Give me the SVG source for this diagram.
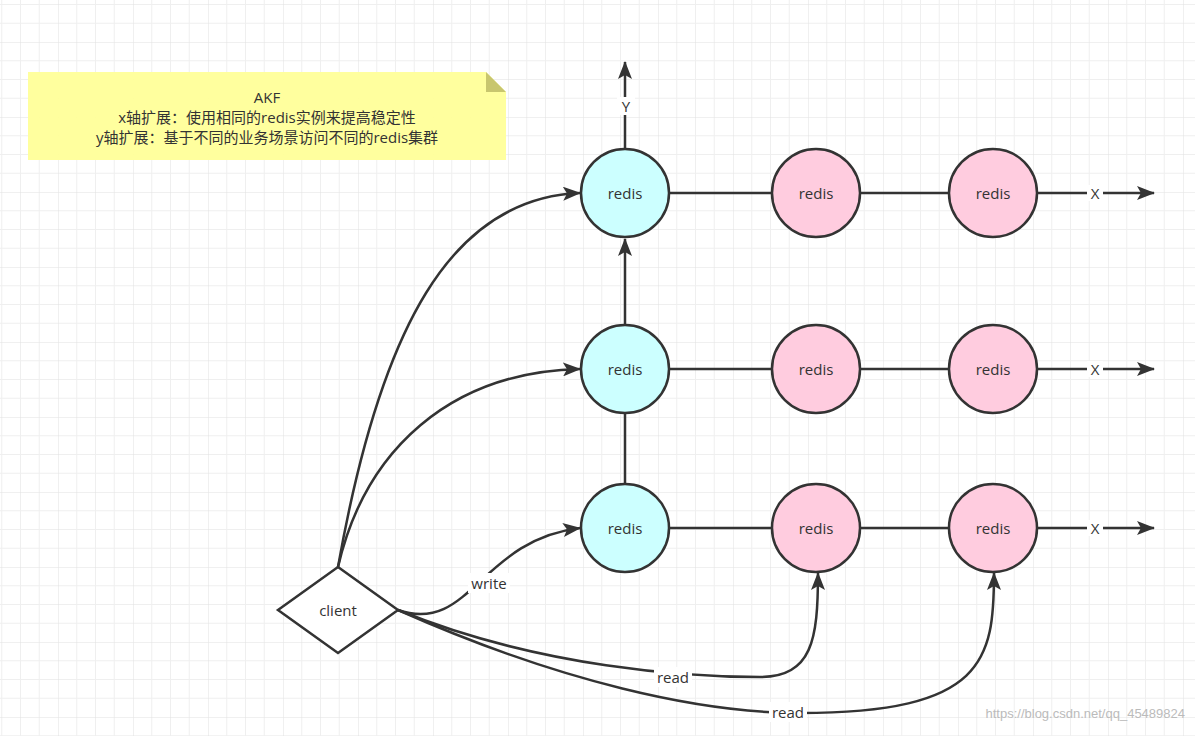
<svg xmlns="http://www.w3.org/2000/svg" width="1195" height="736" viewBox="0 0 1195 736">
<style>
.n{stroke:#333;stroke-width:2.5}
.t{font-family:"Open Sans","Liberation Sans","Noto Sans CJK SC",sans-serif;font-size:15px;fill:#333;text-anchor:middle;dominant-baseline:central}
.e{fill:none;stroke:#333;stroke-width:2.5}
.lb{fill:#fff}
</style>
<defs>
<pattern id="g" width="75" height="75" patternUnits="userSpaceOnUse" x="58" y="42">
<path d="M18.75 0V75M37.5 0V75M56.25 0V75M0 18.75H75M0 37.5H75M0 56.25H75" stroke="#efefef" stroke-width="1"/>
<path d="M0 0V75M0 0H75" stroke="#e2e2e2" stroke-width="1"/>
</pattern>
<marker id="a" markerWidth="10" markerHeight="10" refX="9" refY="5" orient="auto" markerUnits="userSpaceOnUse" viewBox="0 0 10 10">
<path d="M0,0L10,5L0,10L3,5Z" fill="#333"/>
</marker>
<marker id="ab" markerWidth="18" markerHeight="14" refX="17" refY="7" orient="auto" markerUnits="userSpaceOnUse" viewBox="0 0 18 14">
<path d="M0,0L18,7L0,14L4,7Z" fill="#333"/>
</marker>
</defs>
<rect width="1195" height="736" fill="#fff"/>
<rect width="1195" height="736" fill="url(#g)"/>
<g id="note">
<path d="M28,72H486L506,92V160H28Z" fill="#ffff99" opacity="0.95"/>
<path d="M486,72L506,92H486Z" fill="#c8c66e"/>
<text class="t" x="267" y="97">AKF</text>
<text class="t" x="267" y="117">x轴扩展：使用相同的redis实例来提高稳定性</text>
<text class="t" x="267" y="137">y轴扩展：基于不同的业务场景访问不同的redis集群</text>
</g>
<g id="connectors">
<path class="e" d="M625,149V62" marker-end="url(#ab)"/>
<rect class="lb" x="617" y="97" width="18" height="18"/>
<text class="t" x="626" y="106">Y</text>
<path class="e" d="M625,325V239" marker-end="url(#ab)"/>
<path class="e" d="M625,484V413"/>
<path class="e" d="M669,193H772M860,193H949"/>
<path class="e" d="M669,369H772M860,369H949"/>
<path class="e" d="M669,528H772M860,528H949"/>
<path class="e" d="M1037,193H1154" marker-end="url(#ab)"/>
<path class="e" d="M1037,369H1154" marker-end="url(#ab)"/>
<path class="e" d="M1037,528H1154" marker-end="url(#ab)"/>
<rect class="lb" x="1087" y="185" width="16" height="16"/><text class="t" x="1095" y="193">X</text>
<rect class="lb" x="1087" y="361" width="16" height="16"/><text class="t" x="1095" y="369">X</text>
<rect class="lb" x="1087" y="520" width="16" height="16"/><text class="t" x="1095" y="528">X</text>
<path class="e" d="M338,567C380,330 450,198 580,193" marker-end="url(#ab)"/>
<path class="e" d="M338,567C365,450 450,372 580,369" marker-end="url(#ab)"/>
<path class="e" d="M398,610C470,635 480,540 580,528" marker-end="url(#ab)"/>
<rect class="lb" x="468" y="573" width="42" height="20"/>
<text class="t" x="489" y="583">write</text>
<path class="e" d="M398,610C540,668 690,677 760,677C812,677 818,640 818,573" marker-end="url(#ab)"/>
<path class="e" d="M398,610C560,682 700,713 800,713C985,713 994,660 994,573" marker-end="url(#ab)"/>
<rect class="lb" x="654" y="667" width="38" height="20"/>
<text class="t" x="673" y="677">read</text>
<rect class="lb" x="769" y="702" width="38" height="20"/>
<text class="t" x="788" y="712">read</text>
</g>
<g id="r1"><circle class="n" cx="625" cy="193" r="44" fill="#ccffff"/><text class="t" x="625" y="193">redis</text></g>
<g id="r2"><circle class="n" cx="816" cy="193" r="44" fill="#ffccdf"/><text class="t" x="816" y="193">redis</text></g>
<g id="r3"><circle class="n" cx="993" cy="193" r="44" fill="#ffccdf"/><text class="t" x="993" y="193">redis</text></g>
<g id="r4"><circle class="n" cx="625" cy="369" r="44" fill="#ccffff"/><text class="t" x="625" y="369">redis</text></g>
<g id="r5"><circle class="n" cx="816" cy="369" r="44" fill="#ffccdf"/><text class="t" x="816" y="369">redis</text></g>
<g id="r6"><circle class="n" cx="993" cy="369" r="44" fill="#ffccdf"/><text class="t" x="993" y="369">redis</text></g>
<g id="r7"><circle class="n" cx="625" cy="528" r="44" fill="#ccffff"/><text class="t" x="625" y="528">redis</text></g>
<g id="r8"><circle class="n" cx="816" cy="528" r="44" fill="#ffccdf"/><text class="t" x="816" y="528">redis</text></g>
<g id="r9"><circle class="n" cx="993" cy="528" r="44" fill="#ffccdf"/><text class="t" x="993" y="528">redis</text></g>
<g id="client"><path class="n" d="M338,567L398,610L338,653L278,610Z" fill="#fff"/><text class="t" x="338" y="610">client</text></g>
<text x="1185" y="718" font-family="Liberation Sans,sans-serif" font-size="13" fill="#bbb" text-anchor="end">https://blog.csdn.net/qq_45489824</text>
</svg>
